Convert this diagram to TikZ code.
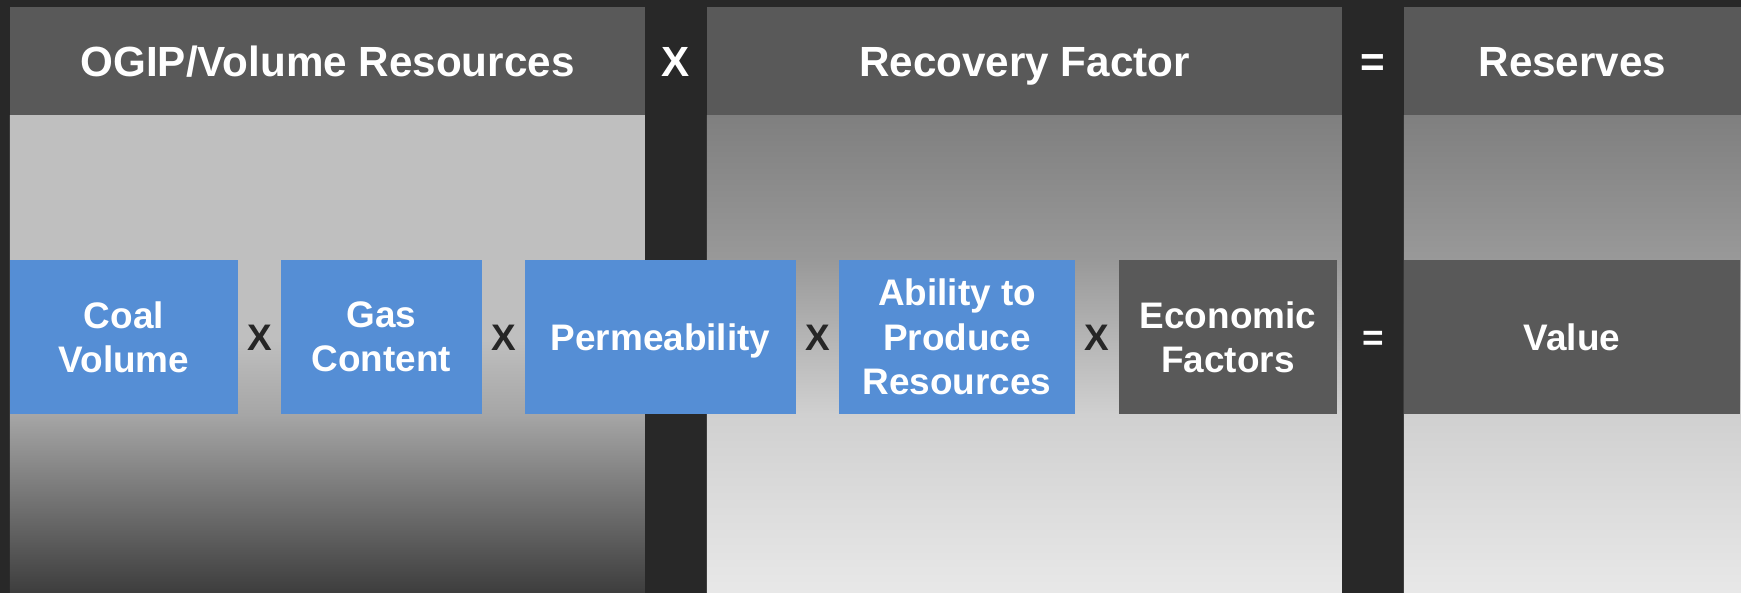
\documentclass[tikz,border=0pt]{standalone}
\usepackage{fontspec}
\setmainfont{Liberation Sans}
\definecolor{bgdark}{HTML}{282828}
\definecolor{headgray}{HTML}{595959}
\definecolor{factorblue}{HTML}{558ED5}
\definecolor{signdark}{HTML}{262626}
\definecolor{volbottom}{HTML}{3D3D3D}
\definecolor{volmid}{HTML}{A6A6A6}
\definecolor{voltop}{HTML}{BFBFBF}
\definecolor{recbottom}{HTML}{E8E8E8}
\definecolor{reclow}{HTML}{D0D0D0}
\definecolor{recmid}{HTML}{999999}
\definecolor{rectop}{HTML}{7F7F7F}
% bodies of the three columns, 25bp = bottom edge, 75bp = top edge
\pgfdeclareverticalshading{volumeshade}{100bp}{color(0bp)=(volbottom); color(25bp)=(volbottom);
  color(43.7bp)=(volmid); color(51.5bp)=(voltop); color(75bp)=(voltop); color(100bp)=(voltop)}
\pgfdeclareverticalshading{recoveryshade}{100bp}{color(0bp)=(recbottom); color(25bp)=(recbottom);
  color(43.7bp)=(reclow); color(59.8bp)=(recmid); color(75bp)=(rectop); color(100bp)=(rectop)}
\begin{document}
\begin{tikzpicture}[
    x=0.01cm, y=-0.01cm,
    every node/.style={text=white, inner sep=0pt, outer sep=0pt},
    header/.style={fill=headgray, minimum height=1.08cm, text height=8.6pt, text depth=0pt,
        font=\fontsize{12}{14}\selectfont\bfseries},
    factor/.style={fill=factorblue, minimum height=1.54cm, align=center,
        font=\fontsize{10.5}{12.6}\selectfont\bfseries},
    given/.style={factor, fill=headgray},
    sign/.style={text=signdark, font=\fontsize{10.5}{12.6}\selectfont\bfseries},
    bigsign/.style={font=\fontsize{12}{14}\selectfont\bfseries}
]
\fill[bgdark] (0,0) rectangle (1741,593);

% column bodies
\shade[shading=volumeshade] (10,115) rectangle (645,593);
\shade[shading=recoveryshade] (707,115) rectangle (1342,593);
\shade[shading=recoveryshade] (1404,115) rectangle (1741,593);

% column headers
\node[header, minimum width=6.35cm] (ogip) at (327.5,61) {OGIP/Volume Resources};
\node[header, minimum width=6.35cm] (recovery) at (1024.5,61) {Recovery Factor};
\node[header, minimum width=3.37cm] (reserves) at (1572.5,61) {Reserves};
\node[bigsign] (xtop) at (676,62) {X};
\node[bigsign, yshift=-1.2pt] (eqtop) at (1373,61) {=};

% factors
\node[factor, minimum width=2.28cm] (coal) at (124,337) {Coal\\Volume};
\node[factor, minimum width=2.01cm] (gas) at (381.5,337) {Gas\\Content};
\node[factor, minimum width=2.71cm, text depth=0pt] (perm) at (660.5,337) {Permeability};
\node[factor, minimum width=2.36cm] (ability) at (957,337) {Ability to\\Produce\\Resources};
\node[given, minimum width=2.18cm] (econ) at (1228,337) {Economic\\Factors};
\node[given, minimum width=3.36cm] (value) at (1572,337) {Value};

\node[sign] (xa) at (259.5,338) {X};
\node[sign] (xb) at (503.5,338) {X};
\node[sign] (xc) at (817.5,338) {X};
\node[sign] (xd) at (1097,338) {X};
\node[sign, text=white, yshift=-1.2pt] (eq) at (1373,337) {=};
\end{tikzpicture}
\end{document}
